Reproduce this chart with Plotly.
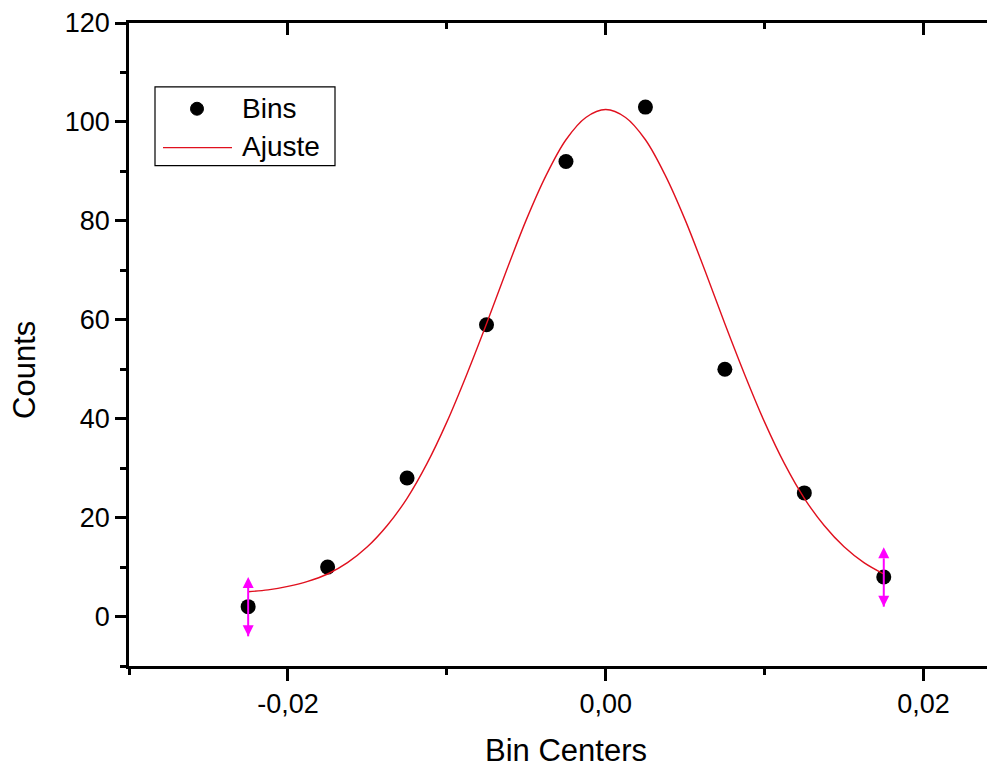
import plotly.graph_objects as go

# ---- data ----
bin_centers = [-0.0225, -0.0175, -0.0125, -0.0075, -0.0025, 0.0025, 0.0075, 0.0125, 0.0175]
counts = [2, 10, 28, 59, 92, 103, 50, 25, 8]

fit_x = [-0.0225, -0.02125, -0.02, -0.01875, -0.0175, -0.01625, -0.015, -0.01375,
         -0.0125, -0.01125, -0.01, -0.00875, -0.0075, -0.00625, -0.005, -0.00375,
         -0.0025, -0.00125, 0.0, 0.00125, 0.0025, 0.00375, 0.005, 0.00625, 0.0075,
         0.00875, 0.01, 0.01125, 0.0125, 0.01375, 0.015, 0.01625, 0.0175]
fit_y = [5.0, 5.4, 6.1, 7.1, 8.6, 10.9, 14.1, 18.4,
         23.9, 30.9, 39.3, 48.9, 59.2, 69.9, 80.2, 89.2,
         96.4, 100.9, 102.5, 100.9, 96.4, 89.2, 80.2, 69.9, 59.2,
         48.9, 39.3, 30.9, 23.9, 18.4, 14.1, 10.9, 8.6]

x_tick_vals = [-0.02, 0.0, 0.02]
x_tick_text = ["-0,02", "0,00", "0,02"]

range_marks_x = [bin_centers[0], bin_centers[-1]]
range_marks_y = [counts[0], counts[-1]]
range_half = 6

x_title = "Bin Centers"
y_title = "Counts"
legend_names = ["Bins", "Ajuste"]

FONT = "Arial, Liberation Sans, sans-serif"
BODY = 8  # default page margin of the html body
W, H = 995 - BODY, 770 - BODY
ML, MR, MT, MB = 129 - BODY, 0, 21 - BODY, 104
PW, PH = W - ML - MR, H - MT - MB


def px(xp):
    return (xp - BODY - ML) / PW


def py(yp):
    return (H - MB - (yp - BODY)) / PH


fig = go.Figure()

fig.add_trace(go.Scatter(x=bin_centers, y=counts, mode="markers",
                         marker=dict(color="black", size=15, symbol="circle"),
                         showlegend=False, name=legend_names[0]))
fig.add_trace(go.Scatter(x=fit_x, y=fit_y, mode="lines", line_shape="spline",
                         line=dict(color="#E0101E", width=1.4),
                         showlegend=False, name=legend_names[1]))

for xm, ym in zip(range_marks_x, range_marks_y):
    fig.add_trace(go.Scatter(x=[xm, xm], y=[ym - range_half, ym + range_half],
                             mode="lines+markers",
                             line=dict(color="#FF00FF", width=2),
                             marker=dict(symbol=["arrow-down", "arrow-up"], size=11,
                                         color="#FF00FF"),
                             showlegend=False, hoverinfo="skip"))

# dummy trace for mirrored axes
fig.add_trace(go.Scatter(x=[None], y=[None], xaxis="x2", yaxis="y2", showlegend=False))

xr = [-0.03, 0.0245]
yr = [-10, 120]
TICKF = dict(size=27, family=FONT)

fig.update_layout(
    width=W, height=H,
    margin=dict(l=ML, r=MR, t=MT, b=MB),
    paper_bgcolor="white", plot_bgcolor="white",
    font=dict(family=FONT, color="black"),
    xaxis=dict(range=xr, showgrid=False, zeroline=False, showline=True,
               linecolor="black", linewidth=2.5, ticks="outside", ticklen=12,
               tickwidth=2.5, tickcolor="black", tickmode="array",
               tickvals=x_tick_vals, ticktext=x_tick_text, tickfont=TICKF,
               ticklabeloverflow="allow",
               minor=dict(ticks="outside", ticklen=6, tickwidth=2.5,
                          tickcolor="black", dtick=0.01, tick0=0, showgrid=False)),
    yaxis=dict(range=yr, showgrid=False, zeroline=False, showline=True,
               linecolor="black", linewidth=2.5, ticks="outside", ticklen=11,
               tickwidth=2.5, tickcolor="black", tick0=0, dtick=20,
               tickfont=TICKF, ticklabelstandoff=0, ticklabeloverflow="allow",
               minor=dict(ticks="outside", ticklen=6, tickwidth=2.5,
                          tickcolor="black", dtick=10, tick0=0, showgrid=False)),
    xaxis2=dict(range=xr, overlaying="x", side="top", anchor="y", showgrid=False,
                zeroline=False, showline=True, linecolor="black", linewidth=2.5,
                ticks="inside", ticklen=12, tickwidth=2.5, tickcolor="black",
                tick0=0, dtick=0.02, showticklabels=False,
                minor=dict(ticks="inside", ticklen=6, tickwidth=2.5,
                           tickcolor="black", dtick=0.01, tick0=0, showgrid=False)),
    yaxis2=dict(range=yr, overlaying="y", side="right", anchor="x", showgrid=False,
                zeroline=False, showline=False, ticks="inside", ticklen=6,
                tickwidth=2.5, tickcolor="black", tick0=0, dtick=20,
                showticklabels=False),
    showlegend=False,
)

# axis titles
fig.add_annotation(text=x_title, xref="paper", yref="paper", x=px(566), y=py(751),
                   xanchor="center", yanchor="middle", showarrow=False,
                   font=dict(size=31, family=FONT))
fig.add_annotation(text=y_title, xref="paper", yref="paper", x=px(25), y=py(369),
                   xanchor="center", yanchor="middle", showarrow=False, textangle=-90,
                   font=dict(size=31, family=FONT))

# legend box drawn by hand
fig.add_shape(type="rect", xref="paper", yref="paper", x0=px(155), x1=px(335),
              y0=py(164), y1=py(85), line=dict(color="black", width=1.2),
              fillcolor="white", layer="above")
fig.add_shape(type="circle", xref="paper", yref="paper", x0=px(190.5), x1=px(203.5),
              y0=py(113.5), y1=py(100.5), line=dict(color="black", width=1),
              fillcolor="black", layer="above")
fig.add_shape(type="line", xref="paper", yref="paper", x0=px(163), x1=px(232),
              y0=py(146), y1=py(146), line=dict(color="#E0101E", width=1.4),
              layer="above")
fig.add_annotation(text=legend_names[0], xref="paper", yref="paper", x=px(240), y=py(107),
                   xanchor="left", yanchor="middle", showarrow=False,
                   font=dict(size=28, family=FONT))
fig.add_annotation(text=legend_names[1], xref="paper", yref="paper", x=px(240), y=py(145),
                   xanchor="left", yanchor="middle", showarrow=False,
                   font=dict(size=28, family=FONT))

fig.write_html("out.html")
